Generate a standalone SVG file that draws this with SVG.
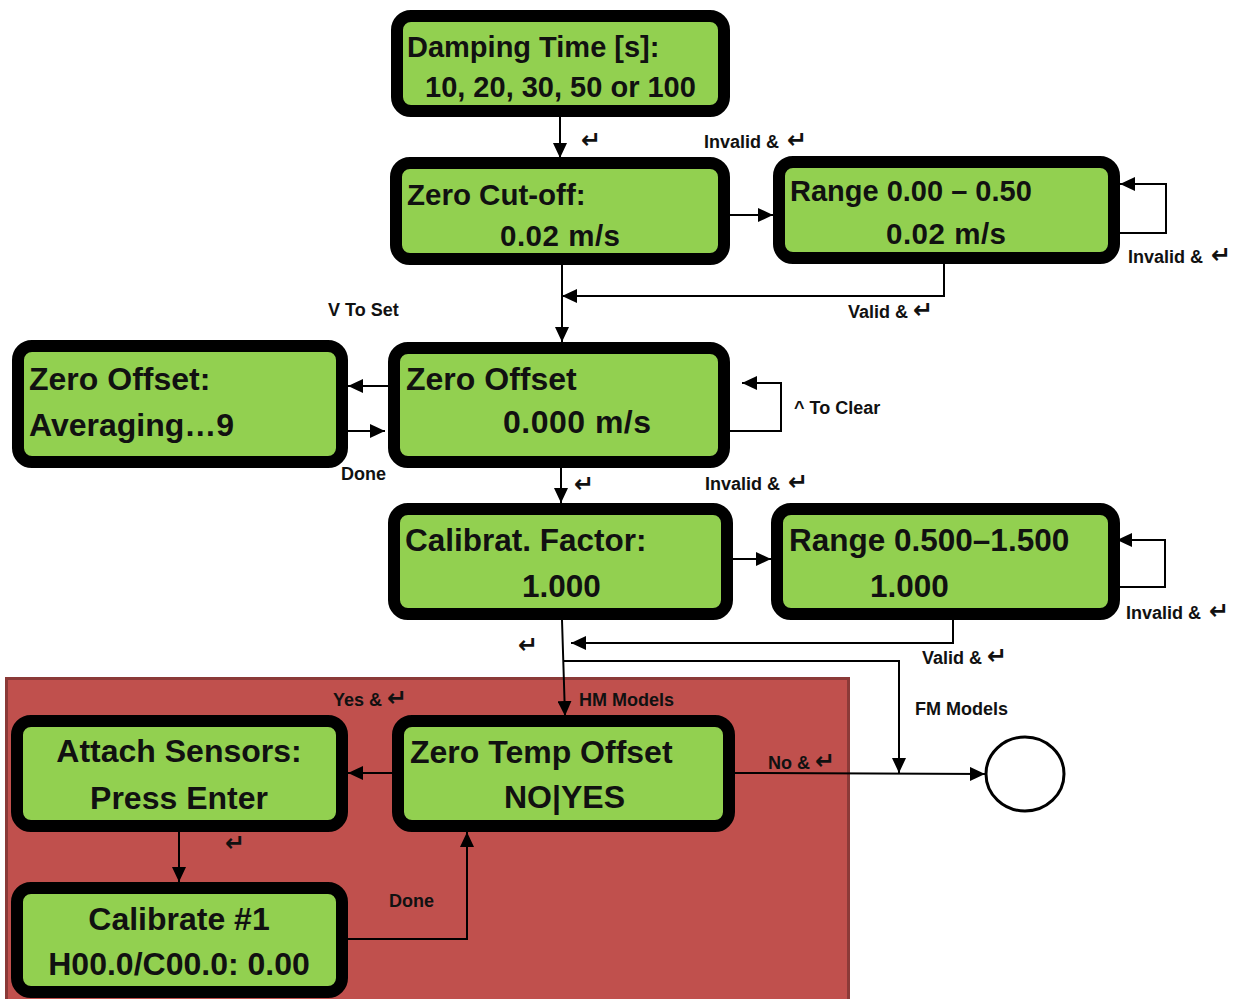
<svg xmlns="http://www.w3.org/2000/svg" width="1236" height="999" viewBox="0 0 1236 999">
<style>
.box{fill:#92D050;stroke:#000;stroke-width:12}
.t{font-family:"Liberation Sans",Arial,sans-serif;font-weight:bold;fill:#111}
.c{text-anchor:middle}
.lbl{font-family:"Liberation Sans","DejaVu Sans",sans-serif;font-weight:bold;font-size:18px;fill:#111}
.rt{font-family:"DejaVu Sans",sans-serif;font-weight:bold;font-size:24px}
.ln{fill:none;stroke:#000;stroke-width:2}
.arr{marker-end:url(#ah)}
</style>
<defs>
<marker id="ah" markerUnits="userSpaceOnUse" markerWidth="15" markerHeight="14" refX="15" refY="7" orient="auto">
<path d="M0,0 L15,7 L0,14 Z" fill="#000"/>
</marker>
</defs>
<rect width="1236" height="999" fill="#fff"/>
<rect id="hm-region" x="6.5" y="678.5" width="842" height="330" fill="#C0504D" stroke="#8B3A38" stroke-width="3"/>

<g id="n-damping"><rect class="box" x="397" y="16" width="327" height="95" rx="14"/>
<text class="t" font-size="29" x="407" y="57">Damping Time [s]:</text>
<text class="t" font-size="29" x="425" y="97">10, 20, 30, 50 or 100</text></g>

<g id="n-zerocut"><rect class="box" x="396" y="163" width="328" height="96" rx="14"/>
<text class="t" font-size="29.5" x="407" y="205">Zero Cut-off:</text>
<text class="t" font-size="29.5" x="500" y="246" textLength="120">0.02 m/s</text></g>

<g id="n-range1"><rect class="box" x="779" y="162" width="335" height="96" rx="14"/>
<text class="t" font-size="29" x="790" y="201">Range 0.00 – 0.50</text>
<text class="t" font-size="29.5" x="886" y="244" textLength="120">0.02 m/s</text></g>

<g id="n-zoavg"><rect class="box" x="18" y="346" width="324" height="116" rx="14"/>
<text class="t" font-size="32" x="29" y="390">Zero Offset:</text>
<text class="t" font-size="32" x="29" y="436">Averaging…9</text></g>

<g id="n-zo"><rect class="box" x="394" y="348" width="330" height="114" rx="14"/>
<text class="t" font-size="32" x="406" y="390">Zero Offset</text>
<text class="t" font-size="32" x="503" y="433" textLength="148">0.000 m/s</text></g>

<g id="n-calfac"><rect class="box" x="394" y="509" width="333" height="105" rx="14"/>
<text class="t" font-size="31.5" x="405" y="551">Calibrat. Factor:</text>
<text class="t" font-size="31.5" x="522" y="597">1.000</text></g>

<g id="n-range2"><rect class="box" x="777" y="509" width="337" height="105" rx="14"/>
<text class="t" font-size="31.5" x="789" y="551">Range 0.500–1.500</text>
<text class="t" font-size="31.5" x="870" y="597">1.000</text></g>

<g id="n-attach"><rect class="box" x="17" y="721" width="325" height="105" rx="14"/>
<text class="t c" font-size="32" x="179" y="762">Attach Sensors:</text>
<text class="t c" font-size="32" x="179" y="809">Press Enter</text></g>

<g id="n-zto"><rect class="box" x="398" y="721" width="331" height="105" rx="14"/>
<text class="t" font-size="32" x="410" y="763">Zero Temp Offset</text>
<text class="t" font-size="32" x="504" y="808">NO|YES</text></g>

<g id="n-cal1"><rect class="box" x="17" y="888" width="325" height="104" rx="14"/>
<text class="t c" font-size="32" x="179" y="930">Calibrate #1</text>
<text class="t c" font-size="32" x="179" y="975">H00.0/C00.0: 0.00</text></g>

<g id="n-end"><ellipse cx="1025" cy="774" rx="39" ry="37" fill="#fff" stroke="#000" stroke-width="3"/></g>

<g id="connectors">
<path class="ln arr" d="M560,117 V158"/>
<path class="ln arr" d="M730,215 H773"/>
<path class="ln arr" d="M1120,233 H1166 V184 H1120"/>
<path class="ln arr" d="M944,264 V296 H562"/>
<path class="ln arr" d="M562,265 V342"/>
<path class="ln arr" d="M389,386 H348"/>
<path class="ln arr" d="M348,431 H385"/>
<path class="ln arr" d="M730,431 H781 V383 H742"/>
<path class="ln arr" d="M561,468 V503"/>
<path class="ln arr" d="M733,559 H771"/>
<path class="ln arr" d="M1119,587 H1165 V540 H1117"/>
<path class="ln arr" d="M953,618 V643 H571"/>
<path class="ln arr" d="M562,620 L565,716"/>
<path class="ln arr" d="M564,661 H899 V773"/>
<path class="ln arr" d="M735,773 L985,774"/>
<path class="ln arr" d="M392,773 H348"/>
<path class="ln arr" d="M179,832 V882"/>
<path class="ln arr" d="M348,939 H467 V832"/>
</g>

<g id="labels">
<text class="lbl rt" x="581" y="148">↵</text>
<text class="lbl" x="704" y="148">Invalid &amp; <tspan class="rt" dx="3">↵</tspan></text>
<text class="lbl" x="1128" y="263">Invalid &amp; <tspan class="rt" dx="3">↵</tspan></text>
<text class="lbl" x="848" y="318">Valid &amp; <tspan class="rt">↵</tspan></text>
<text class="lbl" x="328" y="316">V To Set</text>
<text class="lbl" x="794" y="414">^ To Clear</text>
<text class="lbl" x="341" y="480">Done</text>
<text class="lbl rt" x="574" y="492">↵</text>
<text class="lbl" x="705" y="490">Invalid &amp; <tspan class="rt" dx="3">↵</tspan></text>
<text class="lbl" x="1126" y="619">Invalid &amp; <tspan class="rt" dx="3">↵</tspan></text>
<text class="lbl" x="922" y="664">Valid &amp; <tspan class="rt">↵</tspan></text>
<text class="lbl rt" x="518" y="653">↵</text>
<text class="lbl" x="333" y="706">Yes &amp; <tspan class="rt">↵</tspan></text>
<text class="lbl" x="579" y="706">HM Models</text>
<text class="lbl" x="915" y="715">FM Models</text>
<text class="lbl" x="768" y="769">No &amp; <tspan class="rt">↵</tspan></text>
<text class="lbl rt" x="225" y="851">↵</text>
<text class="lbl" x="389" y="907">Done</text>
</g>
</svg>
